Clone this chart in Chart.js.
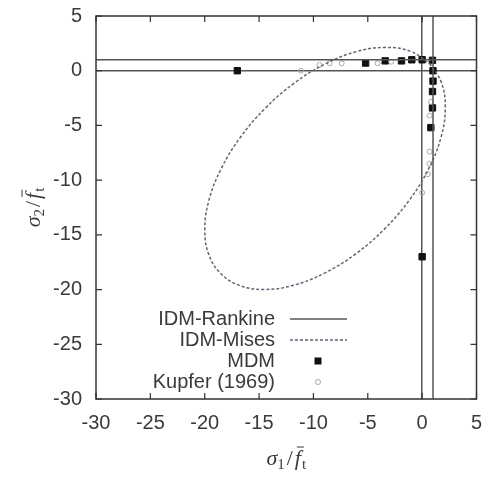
<!DOCTYPE html>
<html>
<head>
<meta charset="utf-8">
<script src="https://cdn.jsdelivr.net/npm/chart.js@4.4.1/dist/chart.umd.min.js"></script>
<style>
  body { margin: 0; background: #fff; }
  #wrap { width: 482px; height: 477px; }
</style>
</head>
<body>
<div id="wrap"><canvas id="failure-surface" width="482" height="477"></canvas></div>
<script>
/* Data */
let legendLabels = [ 'IDM-Rankine', 'IDM-Mises', 'MDM', 'Kupfer (1969)' ]

// IDM-Rankine: the two straight cut-off lines
let rankineVertX = [ 1, 1 ]
let rankineVertY = [ -30, 5 ]
let rankineHorX = [ -30, 5 ]
let rankineHorY = [ 1, 1 ]

// IDM-Mises: points picked along the dashed loop
let misesX = [ 0.67, 1.77, 2.13, 1.75, 0.63, -1.13, -3.43, -6.10, -8.97, -11.83, -14.49, -16.78, -18.53,
               -19.63, -19.99, -19.61, -18.49, -16.73, -14.43, -11.76, -8.89, -6.03, -3.37, -1.08, 0.67 ]
let misesY = [ 0.67, -1.08, -3.37, -6.03, -8.89, -11.76, -14.43, -16.73, -18.49, -19.61, -19.99, -19.63, -18.53,
               -16.78, -14.49, -11.83, -8.97, -6.10, -3.43, -1.13, 0.63, 1.75, 2.13, 1.77, 0.67 ]

// MDM (filled squares)
let mdmX = [ -17, -5.2, -3.4, -1.9, -0.95, 0, 0.95, 1.0, 1.0, 0.95, 0.95, 0.8, 0 ]
let mdmY = [ 0, 0.7, 0.9, 0.9, 1.0, 1.0, 0.95, 0, -0.95, -1.9, -3.4, -5.2, -17 ]

// Kupfer (1969) experiments (open circles)
let kupferX = [ -11.15, -9.45, -8.5, -7.4, -4.1, -2.85, 0.8, 0.82, 0.68, 0.68, 0.68, 0.52, 0 ]
let kupferY = [ 0, 0.52, 0.68, 0.68, 0.68, 0.82, 0.8, -2.85, -4.1, -7.4, -8.5, -9.45, -11.15 ]

let xTicks = [ -30, -25, -20, -15, -10, -5, 0, 5 ]
let yTicks = [ -30, -25, -20, -15, -10, -5, 0, 5 ]

/* Styles */
let textColor = '#3a3a3a'
let frameColor = '#333'
let rankineColor = '#555'
let misesColor = '#5f6676'
let mdmColor = '#111'
let kupferColor = '#a8a8a8'
let tickFont = '20px "Liberation Sans", Arial, sans-serif'

function toPoints(xs, ys) {
    return xs.map((x, i) => ({ x: x, y: ys[i] }))
}

// Axis title like sigma_1 / f-bar_t, drawn piece by piece
function drawMathTitle(ctx, cx, cy, sub) {
    let big = '22px "Liberation Serif", serif'
    let bigIt = 'italic 22px "Liberation Serif", serif'
    let small = '15px "Liberation Serif", serif'
    let parts = [
        { t: '\u03c3', font: bigIt, dy: 0 },
        { t: sub, font: small, dy: 4 },
        { t: '/', font: big, dy: 0, pre: 2 },
        { t: 'f', font: bigIt, dy: 0, bar: true, pre: 2 },
        { t: 't', font: small, dy: 4, pre: 1 }
    ]
    let total = 0
    parts.forEach(p => {
        ctx.font = p.font
        p.w = ctx.measureText(p.t).width
        total += p.w + (p.pre || 0)
    })
    let x = cx - total / 2
    ctx.fillStyle = textColor
    ctx.strokeStyle = textColor
    ctx.textBaseline = 'alphabetic'
    ctx.textAlign = 'left'
    parts.forEach(p => {
        x += (p.pre || 0)
        ctx.font = p.font
        ctx.fillText(p.t, x, cy + 7 + p.dy)
        if (p.bar) {
            ctx.lineWidth = 1
            ctx.beginPath()
            ctx.moveTo(x + 2, cy - 11)
            ctx.lineTo(x + p.w + 3, cy - 11)
            ctx.stroke()
        }
        x += p.w
    })
}

let decorPlugin = {
    id: 'decor',
    afterDraw(chart) {
        let ctx = chart.ctx
        let area = chart.chartArea
        let xs = chart.scales.x
        let ys = chart.scales.y
        ctx.save()

        // frame
        ctx.strokeStyle = frameColor
        ctx.lineWidth = 1.5
        ctx.strokeRect(area.left, area.top, area.right - area.left, area.bottom - area.top)

        // inward tick marks on all four sides
        ctx.lineWidth = 1.2
        ctx.beginPath()
        xTicks.forEach(v => {
            let px = xs.getPixelForValue(v)
            ctx.moveTo(px, area.bottom); ctx.lineTo(px, area.bottom - 6)
            ctx.moveTo(px, area.top); ctx.lineTo(px, area.top + 6)
        })
        yTicks.forEach(v => {
            let py = ys.getPixelForValue(v)
            ctx.moveTo(area.left, py); ctx.lineTo(area.left + 6, py)
            ctx.moveTo(area.right, py); ctx.lineTo(area.right - 6, py)
        })
        ctx.stroke()

        // legend: text right aligned, sample to the right
        let textRight = 275
        let sampleL = 290, sampleR = 347, sampleMid = 318
        let rows = [ 319, 340, 361, 382 ]
        ctx.font = tickFont
        ctx.fillStyle = textColor
        ctx.textAlign = 'right'
        ctx.textBaseline = 'middle'
        legendLabels.forEach((label, i) => ctx.fillText(label, textRight, rows[i]))

        ctx.strokeStyle = rankineColor
        ctx.lineWidth = 1.5
        ctx.setLineDash([])
        ctx.beginPath(); ctx.moveTo(sampleL, rows[0]); ctx.lineTo(sampleR, rows[0]); ctx.stroke()

        ctx.strokeStyle = misesColor
        ctx.setLineDash([3, 2])
        ctx.beginPath(); ctx.moveTo(sampleL, rows[1]); ctx.lineTo(sampleR, rows[1]); ctx.stroke()
        ctx.setLineDash([])

        ctx.fillStyle = mdmColor
        ctx.fillRect(sampleMid - 3.5, rows[2] - 3.5, 7, 7)

        ctx.strokeStyle = kupferColor
        ctx.lineWidth = 1
        ctx.beginPath(); ctx.arc(sampleMid, rows[3], 2.5, 0, Math.PI * 2); ctx.stroke()

        // axis titles
        drawMathTitle(ctx, (area.left + area.right) / 2, 458, '1')
        ctx.translate(33, (area.top + area.bottom) / 2)
        ctx.rotate(-Math.PI / 2)
        drawMathTitle(ctx, 0, 0, '2')

        ctx.restore()
    }
}

let ctx = document.querySelector('#failure-surface').getContext('2d')

let surfaceChart = new Chart(ctx, {
    type: 'scatter',
    data: {
        datasets: [
            {
                data: toPoints(rankineVertX, rankineVertY),
                showLine: true, borderColor: rankineColor, borderWidth: 1.5, pointRadius: 0
            },
            {
                data: toPoints(rankineHorX, rankineHorY),
                showLine: true, borderColor: rankineColor, borderWidth: 1.5, pointRadius: 0
            },
            {
                data: toPoints(misesX, misesY),
                showLine: true, borderColor: misesColor, borderWidth: 1.5, borderDash: [3, 2],
                tension: 0.4, pointRadius: 0
            },
            {
                data: toPoints(kupferX, kupferY),
                pointStyle: 'circle', pointRadius: 2.5, borderWidth: 1,
                borderColor: kupferColor, backgroundColor: 'rgba(255,255,255,0)'
            },
            {
                data: toPoints(mdmX, mdmY),
                pointStyle: 'rect', pointRadius: 4.5, borderWidth: 1,
                borderColor: mdmColor, backgroundColor: mdmColor
            }
        ]
    },
    options: {
        responsive: false,
        animation: false,
        layout: { padding: { top: 16, right: 4, left: 0, bottom: 0 } },
        plugins: { legend: { display: false }, tooltip: { enabled: false } },
        scales: {
            x: {
                type: 'linear', min: -30, max: 5,
                afterFit(scale) {
                    scale.height = 78
                    // let the last label hang off the canvas, like the reference
                    scale.paddingLeft = 0
                    scale.paddingRight = 0
                },
                border: { display: false },
                grid: {
                    drawTicks: false, lineWidth: 1.5,
                    color: c => (c.tick && c.tick.value === 0) ? rankineColor : 'rgba(0,0,0,0)'
                },
                ticks: {
                    stepSize: 5, autoSkip: false, maxRotation: 0, padding: 12,
                    color: textColor, font: { family: '"Liberation Sans", Arial, sans-serif', size: 20 }
                }
            },
            y: {
                type: 'linear', min: -30, max: 5,
                afterFit(scale) {
                    scale.width = 96
                    scale.paddingTop = 0
                    scale.paddingBottom = 0
                },
                border: { display: false },
                grid: {
                    drawTicks: false, lineWidth: 1.5,
                    color: c => (c.tick && c.tick.value === 0) ? rankineColor : 'rgba(0,0,0,0)'
                },
                ticks: {
                    stepSize: 5, autoSkip: false, padding: 14,
                    color: textColor, font: { family: '"Liberation Sans", Arial, sans-serif', size: 20 }
                }
            }
        }
    },
    plugins: [ decorPlugin ]
})
</script>
</body>
</html>
